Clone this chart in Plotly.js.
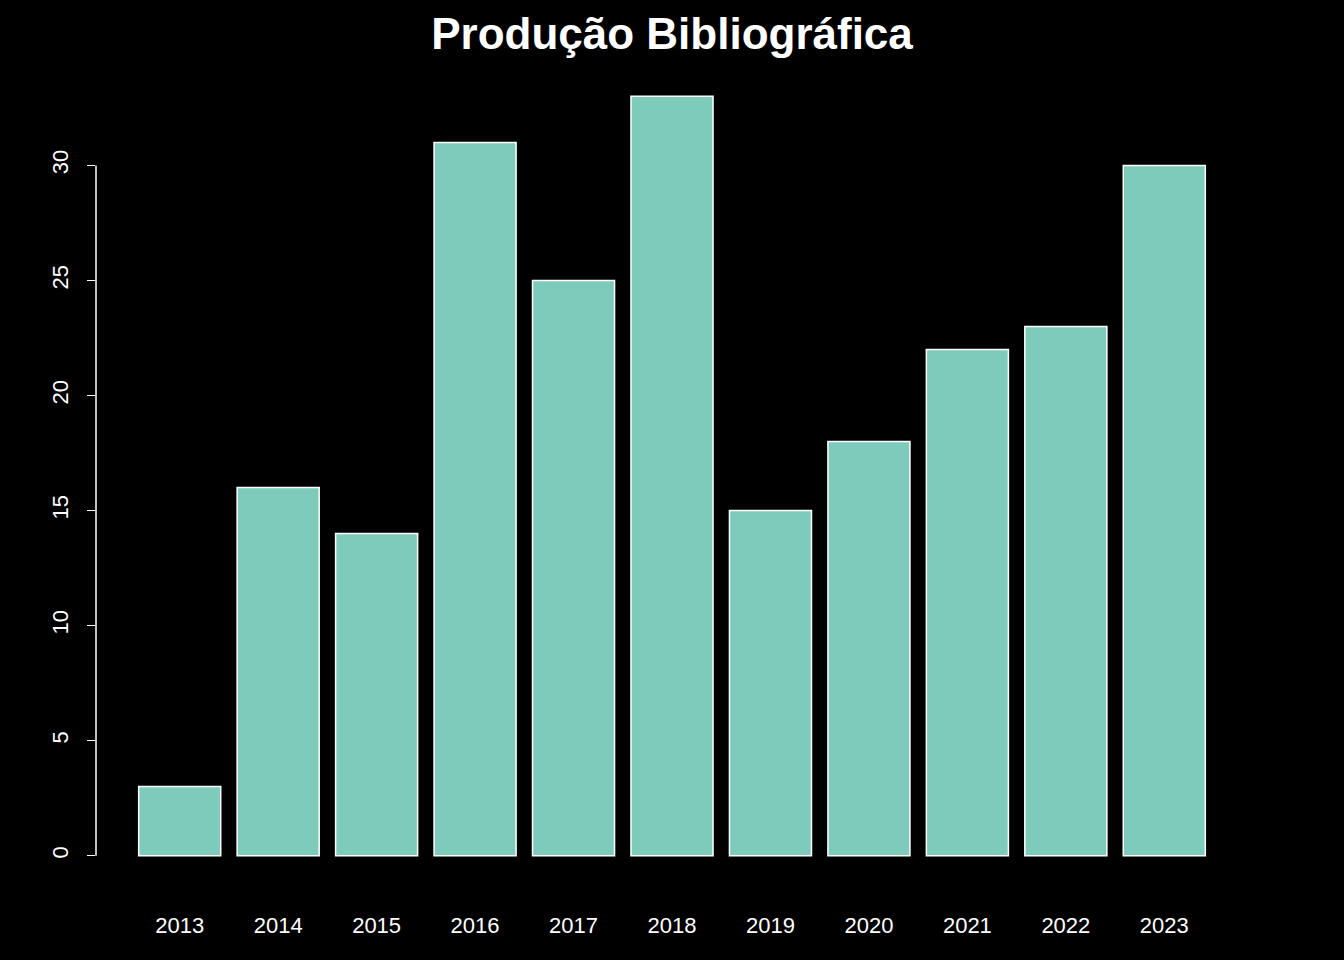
<!DOCTYPE html>
<html>
<head>
<meta charset="utf-8">
<script src="https://cdn.plot.ly/plotly-3.0.1.min.js"></script>
<style>body{margin:0;background:#000}</style>
</head>
<body>
<div id="graph" style="width:1344px;height:960px"></div>
<script>
const years = ['2013', '2014', '2015', '2016', '2017', '2018', '2019', '2020', '2021', '2022', '2023']
const counts = [3, 16, 14, 31, 25, 33, 15, 18, 22, 23, 30]
const yTicks = [0, 5, 10, 15, 20, 25, 30]

// barplot positions: width 1, space 0.2
const positions = years.map((y, i) => 0.7 + 1.2 * i)

Plotly.newPlot(
  'graph',
  [
    {
      x: positions,
      y: counts,
      type: 'bar',
      width: 1,
      marker: { color: '#7fcbbb', line: { color: '#ffffff', width: 1.5 } },
      hoverinfo: 'none'
    }
  ],
  {
    width: 1344,
    height: 960,
    paper_bgcolor: '#000',
    plot_bgcolor: '#000',
    font: { family: 'Liberation Sans, Arial, sans-serif', color: '#fff', size: 20 },
    margin: { l: 96, r: 96, t: 66, b: 74 },
    showlegend: false,
    title: {
      text: '<b>Produção Bibliográfica</b>',
      font: { size: 44, color: '#fff' },
      x: 0.5,
      xanchor: 'center',
      y: 0.965,
      yanchor: 'middle'
    },
    xaxis: {
      range: [-0.32, 13.72],
      tickvals: positions,
      ticktext: years,
      ticks: '',
      showline: false,
      showgrid: false,
      zeroline: false,
      ticklabelstandoff: 24,
      tickfont: { size: 22 }
    },
    yaxis: {
      range: [-1.32, 34.32],
      tickvals: yTicks,
      ticks: 'outside',
      ticklen: 8,
      tickwidth: 1.5,
      tickcolor: '#fff',
      tickangle: -90,
      showline: false,
      showgrid: false,
      zeroline: false,
      ticklabelstandoff: 10,
      tickfont: { size: 22 }
    },
    shapes: [
      {
        type: 'line', xref: 'paper', yref: 'y',
        x0: 0, x1: 0, y0: 0, y1: 30,
        line: { color: '#fff', width: 1.5 }
      }
    ]
  },
  { staticPlot: true, displayModeBar: false }
)
</script>
</body>
</html>
